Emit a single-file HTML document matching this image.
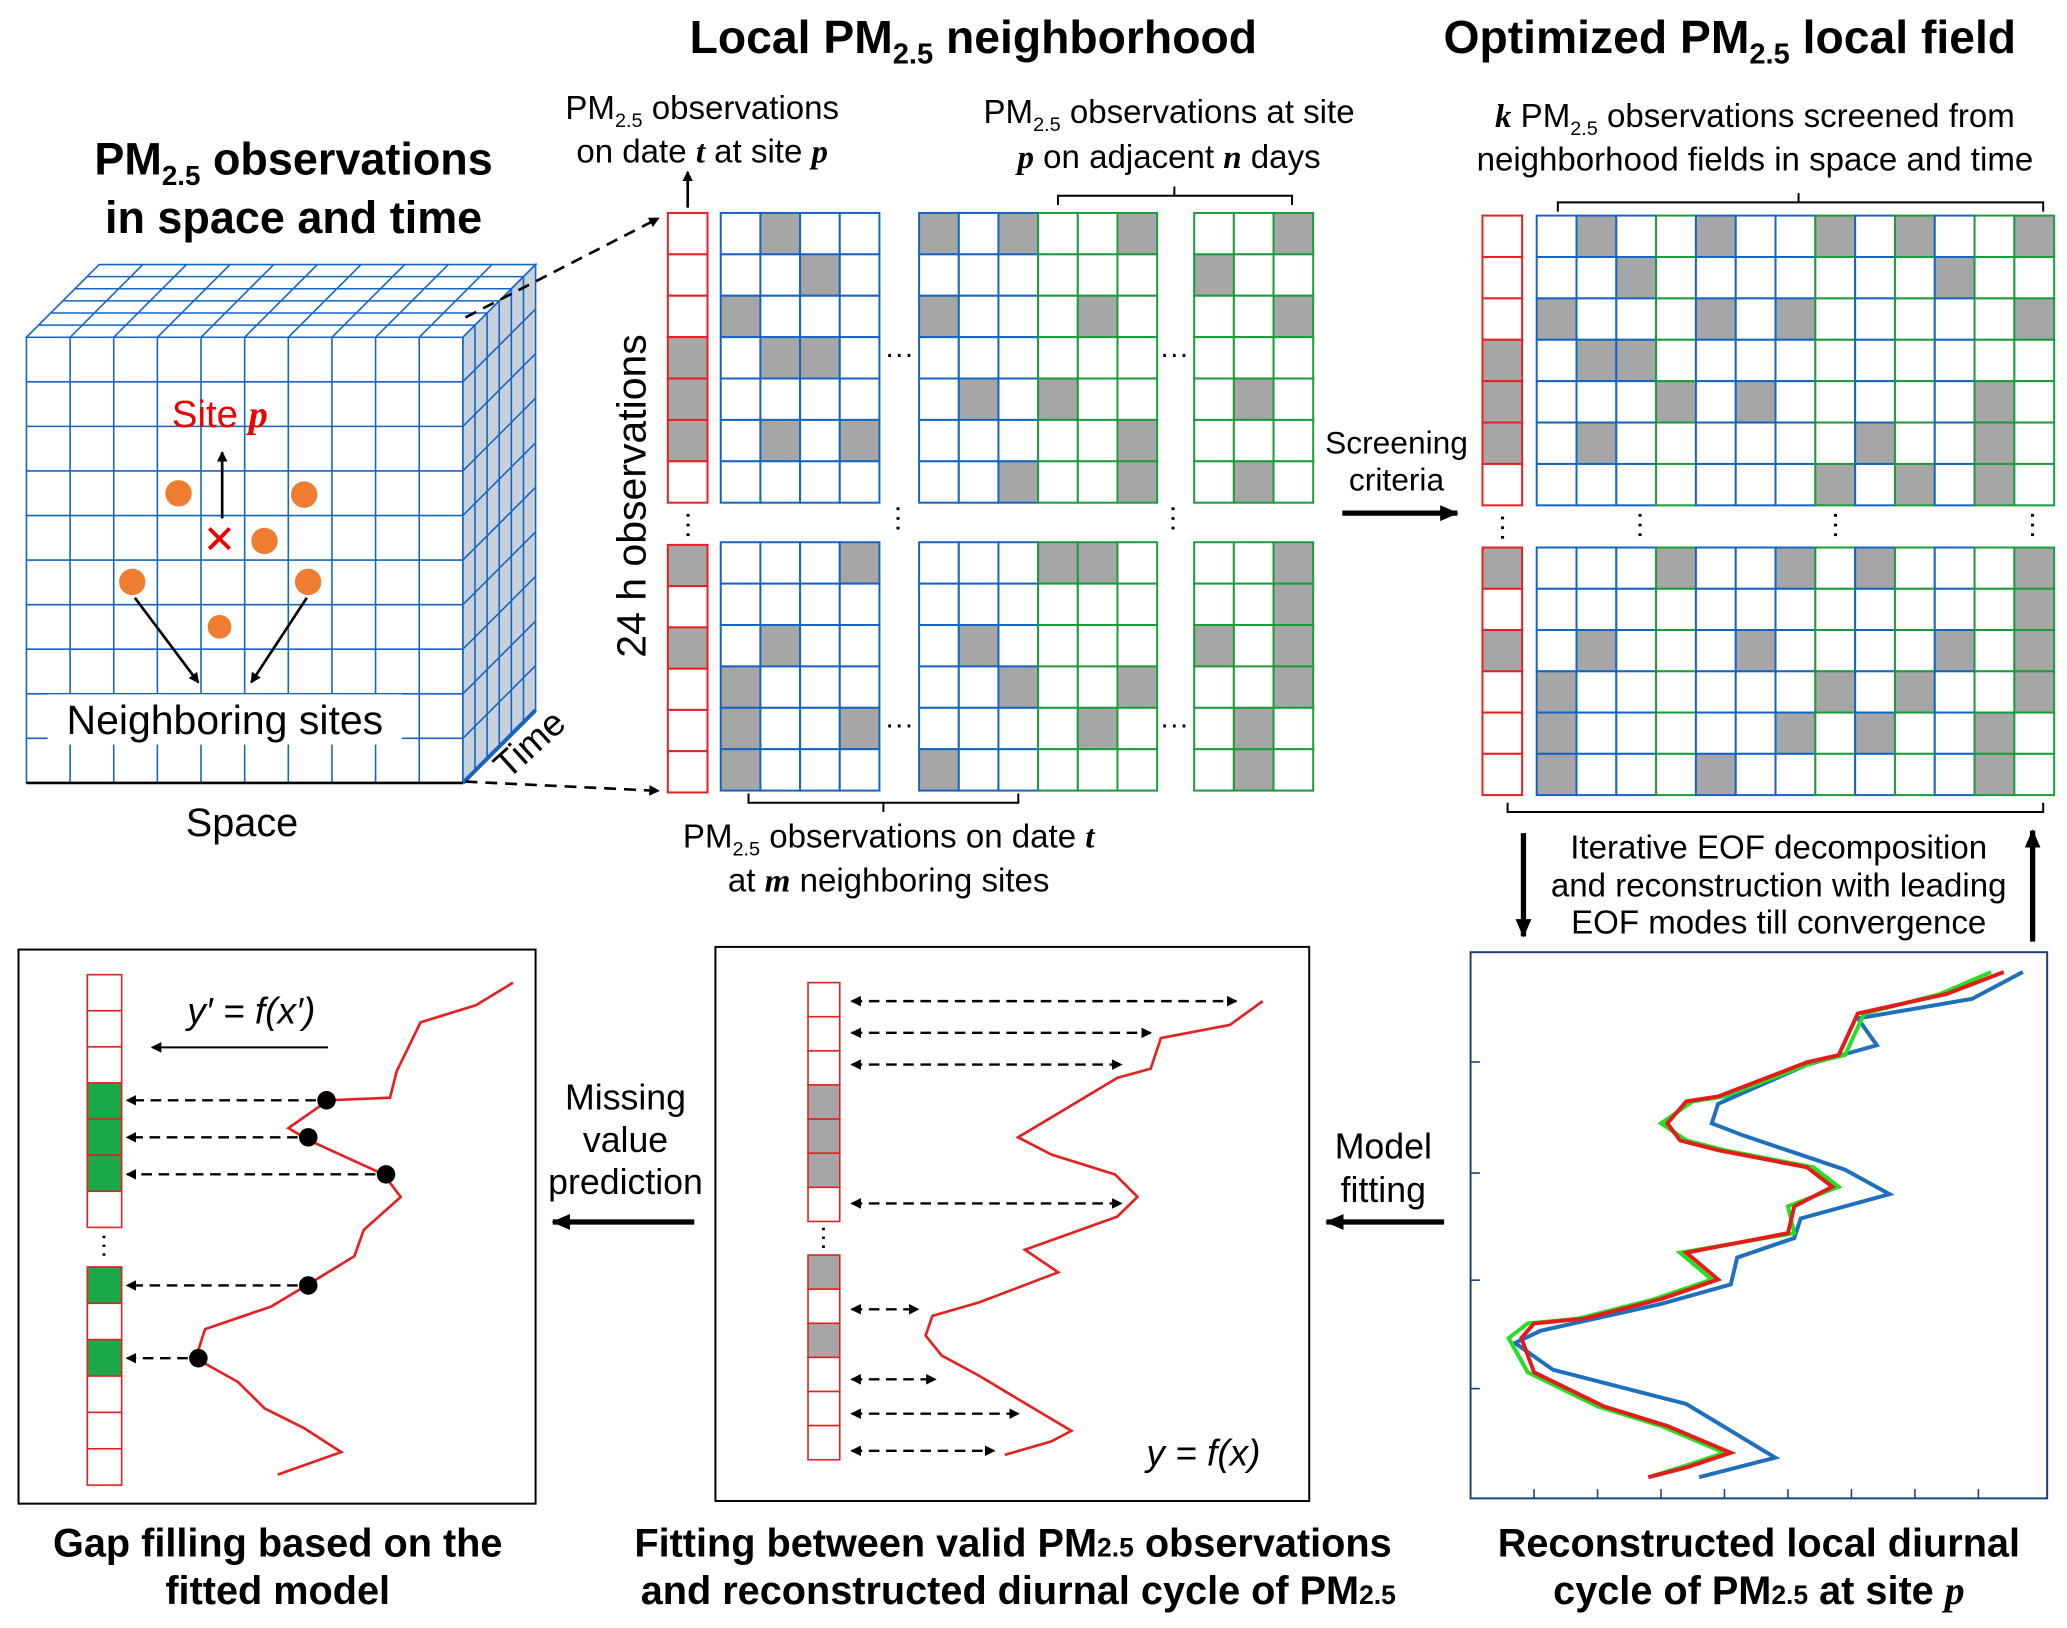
<!DOCTYPE html>
<html><head><meta charset="utf-8"><style>
html,body{margin:0;padding:0;background:#fff}
svg{display:block}
text{font-family:"Liberation Sans",Arial,sans-serif}
.b{font-weight:bold}
.s{font-family:"Liberation Serif",serif;font-style:italic;font-weight:bold}
</style></head><body>
<svg id="fig" width="2067" height="1628" viewBox="0 0 1563 1231" xmlns="http://www.w3.org/2000/svg">
<defs>
<marker id="ah" markerWidth="8" markerHeight="8" refX="7" refY="4" orient="auto" markerUnits="userSpaceOnUse"><path d="M0,0 L8,4 L0,8 z" fill="#000"/></marker>
<marker id="ahs" markerWidth="8" markerHeight="8" refX="1" refY="4" orient="auto" markerUnits="userSpaceOnUse"><path d="M8,0 L0,4 L8,8 z" fill="#000"/></marker>
<marker id="big" markerWidth="14" markerHeight="12" refX="13" refY="6" orient="auto" markerUnits="userSpaceOnUse"><path d="M0,0 L14,6 L0,12 z" fill="#000"/></marker>
</defs>

<!-- Titles -->
<text x="736" y="40" font-size="35" class="b" text-anchor="middle">Local PM<tspan font-size="22" dy="8">2.5</tspan><tspan dy="-8"> neighborhood</tspan></text>
<text x="1308" y="40" font-size="35" class="b" text-anchor="middle">Optimized PM<tspan font-size="22" dy="8">2.5</tspan><tspan dy="-8"> local field</tspan></text>
<text x="222" y="132" font-size="34" class="b" text-anchor="middle">PM<tspan font-size="21" dy="8">2.5</tspan><tspan dy="-8"> observations</tspan></text>
<text x="222" y="176" font-size="34" class="b" text-anchor="middle">in space and time</text>

<!-- Cube -->
<g id="cube"></g>
<text x="130" y="323" font-size="29" fill="#e00">Site <tspan class="s" fill="#e00">p</tspan></text>
<line x1="168" y1="392" x2="168" y2="342" stroke="#000" stroke-width="2" marker-end="url(#ah)"/>
<g fill="#ee7d31">
<circle cx="135" cy="373" r="10"/><circle cx="230" cy="374" r="10"/><circle cx="200" cy="409" r="10"/><circle cx="100" cy="440" r="10"/><circle cx="233" cy="440" r="10"/><circle cx="166" cy="474" r="9"/>
</g>
<text x="166" y="418" font-size="30" fill="#e00" text-anchor="middle">✕</text>
<line x1="102" y1="452" x2="150" y2="516" stroke="#000" stroke-width="2" marker-end="url(#ah)"/>
<line x1="232" y1="452" x2="190" y2="516" stroke="#000" stroke-width="2" marker-end="url(#ah)"/>
<rect x="36" y="525" width="268" height="38" fill="#fff"/>
<text x="170" y="555" font-size="31" text-anchor="middle">Neighboring sites</text>
<text x="183" y="632" font-size="30" text-anchor="middle">Space</text>
<text x="384" y="590" font-size="28" transform="rotate(-42 384 590)">Time</text>
<line x1="352" y1="240" x2="498" y2="165" stroke="#000" stroke-width="2" stroke-dasharray="9,6" marker-end="url(#ah)"/>
<line x1="352" y1="591" x2="498" y2="598" stroke="#000" stroke-width="2" stroke-dasharray="9,6" marker-end="url(#ah)"/>

<!-- middle annotations -->
<text x="531" y="90" font-size="25" text-anchor="middle">PM<tspan font-size="15" dy="6">2.5</tspan><tspan dy="-6"> observations</tspan></text>
<text x="531" y="123" font-size="25" text-anchor="middle">on date <tspan class="s">t</tspan> at site <tspan class="s">p</tspan></text>
<line x1="520" y1="157" x2="520" y2="130" stroke="#000" stroke-width="2" marker-end="url(#ah)"/>
<text x="884" y="93" font-size="25" text-anchor="middle">PM<tspan font-size="15" dy="6">2.5</tspan><tspan dy="-6"> observations at site</tspan></text>
<text x="884" y="127" font-size="25" text-anchor="middle"><tspan class="s">p</tspan> on adjacent <tspan class="s">n</tspan> days</text>
<path d="M800,155 L800,148 L977,148 L977,155 M888,148 L888,141" fill="none" stroke="#000" stroke-width="1.5"/>
<text x="488" y="375" font-size="31" text-anchor="middle" transform="rotate(-90 488 375)">24 h observations</text>
<path d="M566,600 L566,607 L770,607 L770,600 M668,607 L668,614" fill="none" stroke="#000" stroke-width="1.5"/>
<text x="672" y="641" font-size="25" text-anchor="middle">PM<tspan font-size="15" dy="6">2.5</tspan><tspan dy="-6"> observations on date </tspan><tspan class="s">t</tspan></text>
<text x="672" y="674" font-size="25" text-anchor="middle">at <tspan class="s">m</tspan> neighboring sites</text>
<g font-size="22" text-anchor="middle">
<text x="680" y="275">···</text><text x="888" y="275">···</text><text x="680" y="555">···</text><text x="888" y="555">···</text>
</g>
<g font-size="22" fill="#000">
<text x="520" y="403" transform="rotate(90 520 397)" text-anchor="middle">···</text>
<text x="679" y="398" transform="rotate(90 679 392)" text-anchor="middle">···</text>
<text x="887" y="398" transform="rotate(90 887 392)" text-anchor="middle">···</text>
<text x="1136" y="405" transform="rotate(90 1136 399)" text-anchor="middle">···</text>
<text x="1240" y="403" transform="rotate(90 1240 397)" text-anchor="middle">···</text>
<text x="1388" y="403" transform="rotate(90 1388 397)" text-anchor="middle">···</text>
<text x="1537" y="403" transform="rotate(90 1537 397)" text-anchor="middle">···</text>
</g>
<g id="grids"></g>

<!-- screening -->
<text x="1056" y="343" font-size="24" text-anchor="middle">Screening</text>
<text x="1056" y="371" font-size="24" text-anchor="middle">criteria</text>
<line x1="1015" y1="388" x2="1102" y2="388" stroke="#000" stroke-width="4" marker-end="url(#big)"/>
<text x="1327" y="96" font-size="25" text-anchor="middle"><tspan class="s">k</tspan> PM<tspan font-size="15" dy="6">2.5</tspan><tspan dy="-6"> observations screened from</tspan></text>
<text x="1327" y="129" font-size="25" text-anchor="middle">neighborhood fields in space and time</text>
<path d="M1178,160 L1178,153 L1545,153 L1545,160 M1360,153 L1360,146" fill="none" stroke="#000" stroke-width="1.5"/>
<path d="M1140,607 L1140,614 L1545,614 L1545,607" fill="none" stroke="#000" stroke-width="1.5"/>
<text x="1345" y="649" font-size="25" text-anchor="middle">Iterative EOF decomposition</text>
<text x="1345" y="678" font-size="25" text-anchor="middle">and reconstruction with leading</text>
<text x="1345" y="706" font-size="25" text-anchor="middle">EOF modes till convergence</text>
<line x1="1152" y1="630" x2="1152" y2="708" stroke="#000" stroke-width="4" marker-end="url(#big)"/>
<line x1="1537" y1="712" x2="1537" y2="628" stroke="#000" stroke-width="4" marker-end="url(#big)"/>

<!-- bottom panels -->
<rect x="14" y="718" width="391" height="419" fill="#fff" stroke="#000" stroke-width="1.5"/>
<rect x="541" y="716" width="449" height="419" fill="#fff" stroke="#000" stroke-width="1.5"/>
<rect x="1112" y="720" width="436" height="413" fill="#fff" stroke="#1f3f7a" stroke-width="1.5"/>
<text x="1046" y="876" font-size="27" text-anchor="middle">Model</text>
<text x="1046" y="909" font-size="27" text-anchor="middle">fitting</text>
<line x1="1092" y1="924" x2="1003" y2="924" stroke="#000" stroke-width="4" marker-end="url(#big)"/>
<text x="473" y="839" font-size="27" text-anchor="middle">Missing</text>
<text x="473" y="871" font-size="27" text-anchor="middle">value</text>
<text x="473" y="903" font-size="27" text-anchor="middle">prediction</text>
<line x1="525" y1="924" x2="418" y2="924" stroke="#000" stroke-width="4" marker-end="url(#big)"/>
<text x="190" y="774" font-size="28" font-family="Liberation Serif" font-style="italic" text-anchor="middle">y′ = f(x′)</text>
<line x1="248" y1="792" x2="115" y2="792" stroke="#000" stroke-width="1.5" marker-end="url(#ah)"/>
<text x="910" y="1108" font-size="28" font-family="Liberation Serif" font-style="italic" text-anchor="middle">y = f(x)</text>
<text x="79" y="948" font-size="20" transform="rotate(90 79 942)" text-anchor="middle">···</text>
<text x="623" y="942" font-size="20" transform="rotate(90 623 936)" text-anchor="middle">···</text>
<g id="panels"></g>

<text x="210" y="1177" font-size="30" class="b" text-anchor="middle">Gap filling based on the</text>
<text x="210" y="1213" font-size="30" class="b" text-anchor="middle">fitted model</text>
<text x="766" y="1177" font-size="30" class="b" text-anchor="middle">Fitting between valid PM<tspan font-size="20">2.5</tspan> observations</text>
<text x="770" y="1213" font-size="30" class="b" text-anchor="middle">and reconstructed diurnal cycle of PM<tspan font-size="20">2.5</tspan></text>
<text x="1330" y="1177" font-size="30" class="b" text-anchor="middle">Reconstructed local diurnal</text>
<text x="1330" y="1213" font-size="30" class="b" text-anchor="middle">cycle of PM<tspan font-size="20">2.5</tspan> at site <tspan class="s">p</tspan></text>
</svg>
<script>
// ---- chart data (reconstructed diurnal cycle) ----
const hoursRed = [0,0.9,1.7,3.4,3.7,5.1,5.3,6.2,6.9,7.3,8.0,8.8,9.6,10.7,11.5,12.6,13.4,14.2,14.4,15.0,16.4,17.8,18.6,19.7,20.3,20.7];
const valuesRed = [8.4,7.5,6.1,5.8,5.3,3.9,3.4,3.1,3.3,3.9,5.3,5.7,5.1,5.0,3.4,3.9,3.0,1.8,1.0,0.8,1.0,2.1,3.1,4.1,3.4,2.8];
const hoursGreen = [0,0.9,1.7,3.4,3.7,5.1,5.3,6.2,6.9,7.3,8.0,8.8,9.6,10.7,11.5,12.6,13.4,14.2,14.4,15.0,16.4,17.8,18.6,19.7,20.3,20.7];
const valuesGreen = [8.2,7.4,6.2,5.9,5.4,4.0,3.5,3.0,3.4,4.0,5.4,5.8,5.0,5.1,3.3,3.8,2.9,1.7,0.9,0.6,0.9,2.0,3.0,4.0,3.3,2.8];
const hoursBlue = [0,1.1,1.9,3.0,3.8,5.4,6.2,6.7,8.1,9.1,10.1,10.9,11.7,12.8,13.6,14.7,15.2,16.3,17.7,19.9,20.7];
const valuesBlue = [8.7,7.9,6.1,6.4,5.3,3.9,3.8,4.3,5.9,6.6,5.2,5.1,4.2,4.1,3.0,1.1,0.7,1.3,3.4,4.8,3.6];
const xTicks = [1,2,3,4,5,6,7,8];
const yTicks = [4.15,8.35,12.4,16.5];

// ---- grid data ----
const redTop=[3,4,5], redBot=[0,2];
const gTop1=[[0,1],[1,2],[2,0],[3,1],[3,2],[5,1],[5,3]];
const gTop2=[[0,0],[0,2],[2,0],[4,1],[6,2]];
const gTop3=[[0,2],[2,1],[4,0],[5,2],[6,2]];
const gTop4=[[0,2],[1,0],[2,2],[4,1],[6,1]];
const gBot1=[[0,3],[2,1],[3,0],[4,0],[4,3],[5,0]];
const gBot2=[[2,1],[3,2],[5,0]];
const gBot3=[[0,0],[0,1],[3,2],[4,1]];
const gBot4=[[0,2],[1,2],[2,0],[2,2],[3,2],[4,1],[5,1]];
const rTop=[[0,1],[0,4],[0,7],[0,9],[0,12],[1,2],[1,10],[2,0],[2,4],[2,6],[2,12],[3,1],[3,2],[4,3],[4,5],[4,11],[5,1],[5,8],[5,11],[6,7],[6,9],[6,11]];
const rBot=[[0,3],[0,6],[0,8],[0,12],[1,12],[2,1],[2,5],[2,10],[2,12],[3,0],[3,7],[3,9],[3,12],[4,0],[4,6],[4,8],[4,11],[5,0],[5,4],[5,11]];

// panel curves
const fitX=[9.59,8.92,7.51,7.30,6.62,4.59,5.27,6.57,7.03,6.62,4.73,5.41,3.78,2.84,2.70,3.03,3.78,4.59,5.68,5.27,4.32];
const fitY=[0,1.19,1.85,3.38,3.84,6.82,7.68,8.68,9.80,10.79,12.45,13.58,15.10,15.76,16.75,17.75,18.74,19.93,21.52,22.05,22.72];
const fitArrowRows=[757,781,805,910,990,1043,1069,1097];
const fitArrowEnds=[9.05,7.3,6.7,6.7,2.55,2.9,4.6,4.1];
const gapX=[8.93,8.0,6.6,6.0,5.83,4.27,3.27,3.77,5.67,6.1,5.17,4.93,3.83,2.83,1.17,0.93,2.0,2.67,3.67,4.6,3.0];
const gapY=[-0.12,0.93,1.73,4.01,5.25,5.37,6.67,7.22,8.83,9.88,11.42,12.65,13.89,15.0,16.05,17.41,18.52,19.75,20.68,21.79,22.84];
const gapDotX=[4.23,3.77,5.73,3.77,1.0];
const gapDotRows=[832,860,888,972,1027];

const NS="http://www.w3.org/2000/svg";
function mk(tag,a,p){const e=document.createElementNS(NS,tag);for(const k in a)e.setAttribute(k,a[k]);(p||document.getElementById('fig')).appendChild(e);return e;}

// cube
(function(){
  const g=document.getElementById('cube'),c='#1565c0';
  const x0=20,x1=350,y0=255,y1=592,dx=55,dy=-55;
  mk('polygon',{points:`${x1},${y0} ${x1+dx},${y0+dy} ${x1+dx},${y1+dy} ${x1},${y1}`,fill:'#c8d0dc'},g);
  mk('rect',{x:x0,y:y0,width:x1-x0,height:y1-y0,fill:'#fff',stroke:c,'stroke-width':1.2},g);
  for(let i=1;i<10;i++){const x=x0+i*(x1-x0)/10;mk('line',{x1:x,y1:y0,x2:x,y2:y1,stroke:c,'stroke-width':1.2},g);}
  for(let j=1;j<10;j++){const y=y0+j*(y1-y0)/10;mk('line',{x1:x0,y1:y,x2:x1,y2:y,stroke:c,'stroke-width':1.2},g);}
  mk('polygon',{points:`${x0},${y0} ${x1},${y0} ${x1+dx},${y0+dy} ${x0+dx},${y0+dy}`,fill:'#fff',stroke:c,'stroke-width':1.2},g);
  for(let i=1;i<10;i++){const x=x0+i*(x1-x0)/10;mk('line',{x1:x,y1:y0,x2:x+dx,y2:y0+dy,stroke:c,'stroke-width':1.2},g);}
  for(let k=1;k<6;k++){const t=k/6;mk('line',{x1:x0+dx*t,y1:y0+dy*t,x2:x1+dx*t,y2:y0+dy*t,stroke:c,'stroke-width':1.2},g);
    mk('line',{x1:x1+dx*t,y1:y0+dy*t,x2:x1+dx*t,y2:y1+dy*t,stroke:c,'stroke-width':1.2},g);}
  for(let j=1;j<10;j++){const y=y0+j*(y1-y0)/10;mk('line',{x1:x1,y1:y,x2:x1+dx,y2:y+dy,stroke:c,'stroke-width':1.2},g);}
  mk('polygon',{points:`${x1},${y0} ${x1+dx},${y0+dy} ${x1+dx},${y1+dy} ${x1},${y1}`,fill:'none',stroke:c,'stroke-width':1.2},g);
  mk('line',{x1:x0,y1:y1,x2:x1,y2:y1,stroke:'#000','stroke-width':2},g);
  mk('line',{x1:x1,y1:y1,x2:x1+dx,y2:y1+dy,stroke:c,'stroke-width':3},g);
})();

function grid(x,y,cols,rows,cw,ch,color,grays,fill){
  const g=document.getElementById('grids');
  const s=new Set(grays.map(a=>Array.isArray(a)?a[0]+','+a[1]:a+',0'));
  for(let r=0;r<rows;r++)for(let c=0;c<cols;c++){
    const cell=mk('rect',{x:x+c*cw,y:y+r*ch,width:cw,height:ch,fill:s.has(r+','+c)?(fill||'#a6a6a6'):'#fff',stroke:typeof color==='function'?color(c):color,'stroke-width':1.5},g);
    
    
  }
}
const B='#1565c0',G='#1a9c3a',R='#e52020';
grid(505,161,1,7,30,31.3,R,redTop);grid(505,412,1,6,30,31.2,R,redBot);
grid(545,161,4,7,30,31.3,B,gTop1);grid(695,161,3,7,30,31.3,B,gTop2);grid(785,161,3,7,30,31.3,G,gTop3);grid(903,161,3,7,30,31.3,G,gTop4);
grid(545,410,4,6,30,31.3,B,gBot1);grid(695,410,3,6,30,31.3,B,gBot2);grid(785,410,3,6,30,31.3,G,gBot3);grid(903,410,3,6,30,31.3,G,gBot4);
const rc=c=>[0,1,2,4,5,6,8,10].includes(c)?B:G;
grid(1121,163,1,7,30,31.3,R,redTop);grid(1121,414,1,6,30,31.2,R,redBot);
grid(1162,163,13,7,30.1,31.3,rc,rTop);grid(1162,414,13,6,30.1,31.2,rc,rBot);

// panel 1 & 2
(function(){
  const g=document.getElementById('panels');
  function col(x,y,rows,w,h,marks,fill){for(let r=0;r<rows;r++){const e=mk('rect',{x:x,y:y+r*h,width:w,height:h,fill:marks.includes(r)?fill:'#fff',stroke:R,'stroke-width':1.2},g);}}
  col(66,737,7,26,27.3,redTop,'#1aa84a');col(66,958,6,26,27.5,redBot,'#1aa84a');
  col(611,743,7,24,25.8,redTop,'#a6a6a6');col(611,949,6,24,25.8,redBot,'#a6a6a6');
  const fx=v=>600+v*37, fy=i=>757+i*15.1;
  const fl=mk('polyline',{points:fitX.map((v,i)=>fx(v)+','+fy(fitY[i])).join(' '),fill:'none',stroke:R,'stroke-width':2},g);
  
  fitArrowRows.forEach((y,k)=>{const e=mk('line',{x1:644,y1:y,x2:fx(fitArrowEnds[k]),y2:y,stroke:'#000','stroke-width':1.8,'stroke-dasharray':'8,5','marker-end':'url(#ah)','marker-start':'url(#ahs)'},g);});
  const gx=v=>120+v*30, gy=i=>745+i*16.2;
  const gl=mk('polyline',{points:gapX.map((v,i)=>gx(v)+','+gy(gapY[i])).join(' '),fill:'none',stroke:R,'stroke-width':2},g);
  
  gapDotX.forEach((v,k)=>{
    const x=gx(v), y=gapDotRows[k];
    const d=mk('circle',{cx:x,cy:y,r:7,fill:'#000'},g);
    
    const l=mk('line',{x1:x-8,y1:y,x2:96,y2:y,stroke:'#000','stroke-width':1.8,'stroke-dasharray':'8,5','marker-end':'url(#ah)'},g);
    
  });
})();

// chart panel 3
(function(){
  const X0=1112,Y0=735,Y1=1117;
  const sx=v=>X0+v*48, sy=h=>Y0+h*(Y1-Y0)/20.7;
  xTicks.forEach(t=>{const e=mk('line',{x1:sx(t),y1:1133,x2:sx(t),y2:1126,stroke:'#1f3f7a','stroke-width':1.2});});
  yTicks.forEach(t=>{const y=720+t*20;const e=mk('line',{x1:X0,y1:y,x2:X0+7,y2:y,stroke:'#1f3f7a','stroke-width':1.2});});
  function line(hs,vs,c,name){const e=mk('polyline',{points:vs.map((v,i)=>sx(v)+','+sy(hs[i])).join(' '),fill:'none',stroke:c,'stroke-width':3});}
  line(hoursBlue,valuesBlue,'#1f6fbf','series-blue');
  line(hoursGreen,valuesGreen,'#22e022','series-green');
  line(hoursRed,valuesRed,'#e51b1b','series-red');
})();
</script>
</body></html>
